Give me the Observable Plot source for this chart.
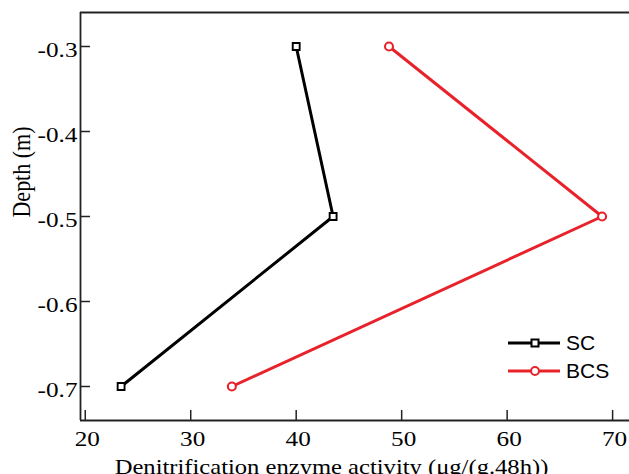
<!DOCTYPE html>
<html>
<head>
<meta charset="utf-8">
<script src="https://cdn.jsdelivr.net/npm/d3@7"></script>
<script src="https://cdn.jsdelivr.net/npm/@observablehq/plot@0.6"></script>
<style>
  html, body { margin: 0; padding: 0; background: #fff; overflow: hidden; }
  #wrap { position: relative; width: 629px; height: 474px; overflow: hidden; background: #fff; }
  #legend { position: absolute; left: 500px; top: 328px; }
</style>
</head>
<body>
<div id="wrap"><div id="chart"></div><div id="legend"></div></div>
<script>
const depths = [-0.3, -0.5, -0.7];
const seriesNames = ["SC", "BCS"];
const scValues = [40.0, 43.5, 23.4];
const bcsValues = [48.8, 69.0, 33.9];
const seriesColors = ["#000000", "#e8222b"];
const seriesSymbols = ["square", "circle"];
const xTicks = [20, 30, 40, 50, 60, 70];
const yTicks = [-0.3, -0.4, -0.5, -0.6, -0.7];
const xDomain = [19.55, 74.54];
const yDomain = [-0.74, -0.26];
const xLabel = "Denitrification enzyme activity (μg/(g.48h))";
const yLabel = "Depth (m)";

const rows = [];
[scValues, bcsValues].forEach((vals, i) => {
  vals.forEach((v, j) => rows.push({series: seriesNames[i], value: v, depth: depths[j]}));
});

const serif = "'Liberation Serif', 'Times New Roman', serif";

// The plot frame continues past the right edge of the 629px picture, as in the reference.
const chart = Plot.plot({
  width: 660,
  height: 474,
  marginLeft: 80,
  marginRight: 0,
  marginTop: 12,
  marginBottom: 54,
  style: {fontFamily: serif, fontSize: "21px", color: "#000", background: "#fff", maxWidth: "none"},
  x: {domain: xDomain},
  y: {domain: yDomain},
  color: {domain: seriesNames, range: seriesColors},
  symbol: {domain: seriesNames, range: seriesSymbols},
  marks: [
    Plot.ruleX([xDomain[0]], {stroke: "#222", strokeWidth: 1.8}),
    Plot.ruleY(yDomain, {stroke: "#222", strokeWidth: 1.8}),
    Plot.axisX({ticks: xTicks, tickSize: -10, tickFormat: () => "", label: null, strokeWidth: 1.5, stroke: "#222"}),
    Plot.axisY({ticks: yTicks, tickSize: -10, tickFormat: () => "", label: null, strokeWidth: 1.5, stroke: "#222"}),
    Plot.axisX({ticks: xTicks, tickSize: 0, tickPadding: 11, tickFormat: d => String(d),
      label: null, fontSize: 21, dx: 2}),
    Plot.axisY({ticks: yTicks, tickSize: 0, tickPadding: 3, tickFormat: d => d.toFixed(1),
      label: null, fontSize: 21, dy: 4}),
    Plot.text([xLabel], {text: d => d, frameAnchor: "bottom", lineAnchor: "middle", dy: 46.5, dx: -39,
      fontSize: 20.5, fill: "#000"}),
    Plot.text([yLabel], {text: d => d, frameAnchor: "left", lineAnchor: "middle", rotate: -90, dx: -59, dy: 1,
      fontSize: 22, fill: "#000"}),
    Plot.line(rows, {x: "value", y: "depth", z: "series", stroke: "series", strokeWidth: 3}),
    Plot.dot(rows.filter(d => d.series === "SC"), {x: "value", y: "depth", symbol: "series", stroke: "series", fill: "#fff", strokeWidth: 1.9, r: 3.9}),
    Plot.dot(rows.filter(d => d.series === "BCS"), {x: "value", y: "depth", symbol: "series", stroke: "series", fill: "#fff", strokeWidth: 2.1, r: 4})
  ]
});
document.getElementById("chart").append(chart);

// The reference's serif text is horizontally widened; widen each label about its own anchor.
d3.select(chart).selectAll("text").each(function() {
  const el = this;
  if (!el.textContent) return;
  let bb;
  try { bb = el.getBBox(); } catch (e) { return; }
  if (!bb || !isFinite(bb.x)) return;
  const anchor = getComputedStyle(el).textAnchor || el.getAttribute("text-anchor") || "start";
  const ax = anchor === "end" ? bb.x + bb.width : anchor === "middle" ? bb.x + bb.width / 2 : bb.x;
  const ay = bb.y + bb.height / 2;
  const tr = el.getAttribute("transform") || "";
  const rotated = /rotate/.test(tr);
  const sc = rotated ? "scale(1,1.15)" : "scale(1.2,1)";
  el.setAttribute("transform", `${tr} translate(${ax},${ay}) ${sc} translate(${-ax},${-ay})`.trim());
});

const lg = d3.select("#legend").append("svg").attr("width", 125).attr("height", 60)
  .style("font-family", "'Liberation Sans', Arial, sans-serif").style("font-size", "21px");
seriesNames.forEach((name, i) => {
  const g = lg.append("g").attr("transform", `translate(0,${15 + i * 28})`);
  g.append("line").attr("x1", 8).attr("x2", 60).attr("y1", 0).attr("y2", 0)
    .attr("stroke", seriesColors[i]).attr("stroke-width", 3);
  const sym = d3.symbol(seriesSymbols[i] === "square" ? d3.symbolSquare : d3.symbolCircle, 49)();
  g.append("path").attr("d", sym).attr("transform", "translate(35,0)")
    .attr("fill", "#fff").attr("stroke", seriesColors[i]).attr("stroke-width", 2);
  g.append("text").attr("x", 66).attr("y", 0).attr("dy", "0.35em").attr("fill", "#000").text(name);
});
</script>
</body>
</html>
